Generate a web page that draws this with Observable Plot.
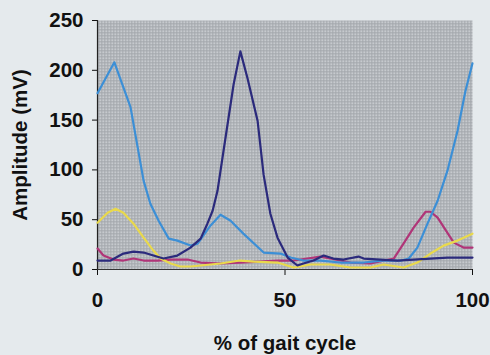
<!DOCTYPE html>
<html><head><meta charset="utf-8">
<script src="https://cdn.jsdelivr.net/npm/d3@7"></script>
<script src="https://cdn.jsdelivr.net/npm/@observablehq/plot@0.6"></script>
<style>
html,body{margin:0;padding:0;background:#e5eaed;}
</style></head><body><div id="chart"></div>
<script>
const xTicks = [0, 50, 100];
const yTicks = [0, 50, 100, 150, 200, 250];
const xLabel = "% of gait cycle";
const yLabel = "Amplitude (mV)";

const lightBlueX = [0,4.5,8.8,12.3,14.1,16.3,19,21.3,24.8,26.7,30.1,32.8,35.5,38.9,44.3,48.8,51.5,54.9,59.5,64.8,71,76,81,83,85.3,88,90.7,93.3,96,98.1,100];
const lightBlueY = [177,208,163,89,66,49,31,29,24,26,44,55,49,36,17,16,12,9,9,7,7,9,9,11,22,46,69,99,139,179,207];

const navyX = [0,3.5,6.9,9.6,12.3,14.9,17.6,21.3,24.8,27.5,29.3,30.7,32,33.6,36.3,38.1,40,42.7,44.3,46.1,48,50.7,53.3,54.9,57.6,60.3,62.9,65.6,69.6,71,75.5,80,84.3,88.8,93.3,100];
const navyY = [9,9,16,18,17,14,11,14,22,31,46,59,79,119,186,219,192,149,95,56,32,12,4,6,9,14,11,10,13,11,10,9,10,11,12,12];

const yellowX = [0,2.7,4.8,6.9,9.6,12.3,14.9,16.8,19.5,22.1,24.8,27.5,32.8,38,41.6,48,52.3,54,56.8,62,67.5,72.8,76.3,81.6,85.3,88.8,92.3,96,100];
const yellowY = [47,57,61,57,46,32,19,11,6,3,3,4,6,9,8,7,2,3,5,5,2,2,5,2,7,16,24,29,36];

const magentaX = [0,1.6,4.3,6.9,9.6,12.3,16,19.5,24,27.5,32.8,38,48,52.3,59.5,64.8,67.5,72.8,79,81.6,84.3,87.5,88.8,90.7,95,97.6,100];
const magentaY = [21,14,10,9,11,9,9,10,10,7,6,7,9,9,13,9,7,6,11,26,42,58,58,52,27,22,22];

const series = [
  {x: magentaX, y: magentaY, color: "#b03578"},
  {x: yellowX, y: yellowY, color: "#e9d94c"},
  {x: lightBlueX, y: lightBlueY, color: "#3c8fd6"},
  {x: navyX, y: navyY, color: "#2b2a7c"}
];

const chart = Plot.plot({
  width: 490, height: 355,
  marginLeft: 97, marginRight: 18, marginTop: 20, marginBottom: 86,
  style: {background: "#e5eaed", fontFamily: "'Liberation Sans', Arial, sans-serif", fontWeight: "bold", fontSize: "20px", color: "#111"},
  x: {domain: [0, 100]},
  y: {domain: [0, 250]},
  marks: [
    Plot.frame({fill: "url(#dots)", stroke: null}),
    Plot.axisX({ticks: xTicks, tickSize: 6, tickPadding: 17, label: null, fontSize: 20.5}),
    Plot.axisX({ticks: [], label: xLabel, labelAnchor: "center", labelArrow: "none", labelOffset: 80, fontSize: 20.5}),
    Plot.axisY({ticks: yTicks, tickSize: 5, tickPadding: 9, label: null, fontSize: 20.5}),
    Plot.axisY({ticks: [], label: yLabel, labelAnchor: "center", labelArrow: "none", labelOffset: 85, fontSize: 20.5, dx: -4}),
    Plot.ruleX([0], {stroke: "#222", strokeWidth: 1.2}),
    Plot.ruleY([0], {stroke: "#333", strokeWidth: 1}),
    ...series.map(s => Plot.line(s.x.map((v, i) => ({x: v, y: s.y[i]})), {x: "x", y: "y", stroke: s.color, strokeWidth: 2.2, curve: "linear"}))
  ]
});

const svg = d3.select(chart);
const defs = svg.insert("defs", ":first-child");
const pat = defs.append("pattern").attr("id", "dots").attr("width", 3).attr("height", 3).attr("patternUnits", "userSpaceOnUse");
pat.append("rect").attr("width", 3).attr("height", 3).attr("fill", "#a3a7ac");
pat.append("rect").attr("width", 1.5).attr("height", 1.5).attr("fill", "#e2e5e8");
document.getElementById("chart").appendChild(chart);
</script></body></html>
